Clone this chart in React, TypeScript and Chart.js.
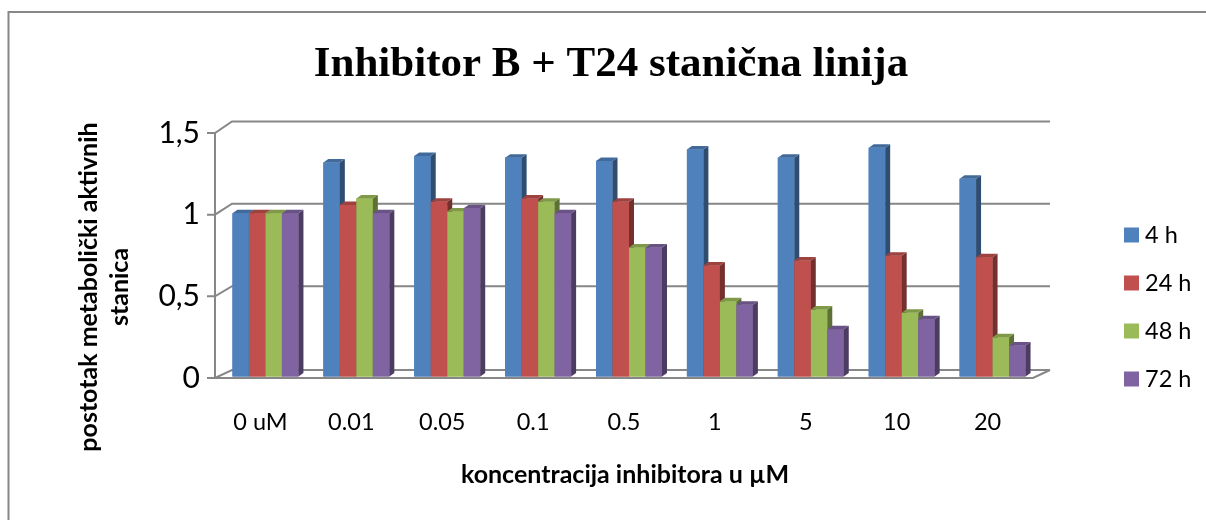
import React, { useEffect, useRef } from "react";
import { Chart, registerables } from "chart.js";

Chart.register(...registerables);

const TITLE = "Inhibitor B + T24 stanična linija";
const X_TITLE = "koncentracija inhibitora u µM";
const Y_TITLE = ["postotak metabolički aktivnih", "stanica"];

const CATEGORIES = ["0 uM", "0.01", "0.05", "0.1", "0.5", "1", "5", "10", "20"];
const SERIES_LABELS = ["4 h", "24 h", "48 h", "72 h"];
const H4 = [1.0, 1.31, 1.35, 1.34, 1.32, 1.39, 1.34, 1.4, 1.21];
const H24 = [1.0, 1.05, 1.07, 1.09, 1.07, 0.68, 0.71, 0.74, 0.73];
const H48 = [1.0, 1.09, 1.01, 1.07, 0.79, 0.46, 0.41, 0.39, 0.24];
const H72 = [1.0, 1.0, 1.03, 1.0, 0.79, 0.44, 0.29, 0.35, 0.19];
const Y_TICKS = [0, 0.5, 1, 1.5];

const COLORS = ["#4F81BD", "#C0504D", "#9BBB59", "#8064A2"];
const GRID = "#878787";
const FONT = "Lato";

const DEPTH_X = 5;
const DEPTH_Y = -3.5;
const BAR_SHIFT_X = 5;
const BAR_SHIFT_Y = -1.5;
const WALL_DX = 17;
const wallDy = (v: number) => -8 - 3.6 * Math.sqrt(v / 1.5);

function shade(hex: string, f: number) {
  const n = parseInt(hex.slice(1), 16);
  const r = Math.round(((n >> 16) & 255) * f);
  const g = Math.round(((n >> 8) & 255) * f);
  const b = Math.round((n & 255) * f);
  return `rgb(${r},${g},${b})`;
}

const threeD = {
  id: "threeD",
  beforeDatasetsDraw(chart: any) {
    const { ctx, chartArea: ca } = chart;
    const y = chart.scales.y;
    ctx.save();
    ctx.strokeStyle = GRID;
    ctx.lineWidth = 2;
    ctx.lineCap = "butt";
    for (const v of Y_TICKS) {
      const py = y.getPixelForValue(v);
      const dy = wallDy(v);
      ctx.beginPath();
      ctx.moveTo(ca.left - 8, py);
      ctx.lineTo(ca.left, py);
      ctx.lineTo(ca.left + WALL_DX, py + dy);
      ctx.lineTo(ca.right + WALL_DX, py + dy);
      ctx.stroke();
    }
    const p0 = y.getPixelForValue(0);
    const pTop = y.getPixelForValue(1.5);
    ctx.beginPath();
    ctx.moveTo(ca.left, pTop);
    ctx.lineTo(ca.left, p0);
    ctx.lineTo(ca.right, p0);
    ctx.lineTo(ca.right + WALL_DX, p0 + wallDy(0));
    ctx.stroke();
    ctx.restore();
    // bars are drawn shifted to mid-depth of the 3D floor
    ctx.save();
    ctx.translate(BAR_SHIFT_X, BAR_SHIFT_Y);
  },
  afterDatasetsDraw(chart: any) {
    const ctx = chart.ctx;
    const metas = chart.data.datasets.map((_: any, i: number) => chart.getDatasetMeta(i));
    const n = chart.data.labels.length;
    for (let j = 0; j < n; j++) {
      metas.forEach((meta: any, i: number) => {
        const el = meta.data[j];
        if (!el) return;
        const color = COLORS[i];
        const { x, y, width, base } = el.getProps(["x", "y", "width", "base"], true);
        const l = x - width / 2;
        const r = x + width / 2;
        // front
        ctx.fillStyle = color;
        ctx.fillRect(l, y, width, base - y);
        // side
        ctx.fillStyle = shade(color, 0.6);
        ctx.beginPath();
        ctx.moveTo(r, y);
        ctx.lineTo(r + DEPTH_X, y + DEPTH_Y);
        ctx.lineTo(r + DEPTH_X, base + DEPTH_Y);
        ctx.lineTo(r, base);
        ctx.closePath();
        ctx.fill();
        // top
        ctx.fillStyle = shade(color, 0.82);
        ctx.beginPath();
        ctx.moveTo(l, y);
        ctx.lineTo(l + DEPTH_X, y + DEPTH_Y);
        ctx.lineTo(r + DEPTH_X, y + DEPTH_Y);
        ctx.lineTo(r, y);
        ctx.closePath();
        ctx.fill();
      });
    }
    ctx.restore();
  },
  afterDraw(chart: any) {
    const ctx = chart.ctx;
    ctx.save();
    // outer border
    ctx.strokeStyle = GRID;
    ctx.lineWidth = 2;
    ctx.strokeRect(8.5, 12, 1300, 600);
    // title
    ctx.fillStyle = "#000";
    ctx.textAlign = "center";
    ctx.textBaseline = "alphabetic";
    ctx.font = `bold 43px "Liberation Serif"`;
    ctx.fillText(TITLE, 611, 76);
    // x title
    ctx.font = `bold 25px ${FONT}`;
    ctx.textBaseline = "middle";
    ctx.fillText(X_TITLE, 625, 475);
    // y title
    ctx.save();
    ctx.translate(104, 287);
    ctx.rotate(-Math.PI / 2);
    ctx.fillText(Y_TITLE[0], 0, -15);
    ctx.fillText(Y_TITLE[1], 0, 16);
    ctx.restore();
    // legend
    ctx.font = `23.5px ${FONT}`;
    ctx.textAlign = "left";
    chart.data.datasets.forEach((ds: any, i: number) => {
      const cy = 235 + 48 * i;
      ctx.fillStyle = ds.backgroundColor;
      ctx.fillRect(1124, cy - 7.5, 15, 15);
      ctx.fillStyle = "#000";
      ctx.fillText(ds.label, 1145, cy);
    });
    ctx.restore();
  },
};

export default function App() {
  const ref = useRef<HTMLCanvasElement | null>(null);
  useEffect(() => {
    let chart: Chart | null = null;
    let cancelled = false;
    const make = () => {
      if (cancelled || !ref.current) return;
      const series = [H4, H24, H48, H72];
      chart = new Chart(ref.current, {
        type: "bar",
        data: {
          labels: CATEGORIES,
          datasets: series.map((d, i) => ({
            label: SERIES_LABELS[i],
            data: d,
            backgroundColor: COLORS[i],
            borderWidth: 0,
            clip: false,
            categoryPercentage: 0.726,
            barPercentage: 1.0,
          })),
        },
        options: {
          responsive: false,
          animation: false,
          events: [],
          layout: { padding: { left: 0, right: 173, top: 133, bottom: 0 } },
          plugins: {
            legend: { display: false },
            title: { display: false },
            tooltip: { enabled: false },
          },
          scales: {
            x: {
              grid: { display: false, drawTicks: false },
              border: { display: false },
              ticks: {
                color: "#000",
                font: { family: FONT, size: 23.5 },
                padding: 30,
                maxRotation: 0,
                autoSkip: false,
              },
              afterFit: (s: any) => {
                s.height = 142;
              },
            },
            y: {
              min: 0,
              max: 1.5,
              grid: { display: false, drawTicks: false },
              border: { display: false },
              ticks: {
                stepSize: 0.5,
                color: "#000",
                font: { family: FONT, size: 30 },
                padding: 15,
                callback: (v: any) => String(v).replace(".", ","),
              },
              afterFit: (s: any) => {
                s.width = 215;
              },
            },
          },
        },
        plugins: [threeD],
      } as any);
    };
    const fonts = (document as any).fonts;
    if (fonts && fonts.load) {
      Promise.all([
        fonts.load(`23px ${FONT}`),
        fonts.load(`bold 23px ${FONT}`),
        fonts.load(`bold 43px "Liberation Serif"`),
      ])
        .catch(() => {})
        .then(make);
    } else make();
    return () => {
      cancelled = true;
      if (chart) chart.destroy();
    };
  }, []);
  return (
    <div style={{ position: "fixed", left: 0, top: 0, width: 1206, height: 520, background: "#fff" }}>
      <canvas ref={ref} width={1206} height={520} style={{ display: "block" }} />
    </div>
  );
}
